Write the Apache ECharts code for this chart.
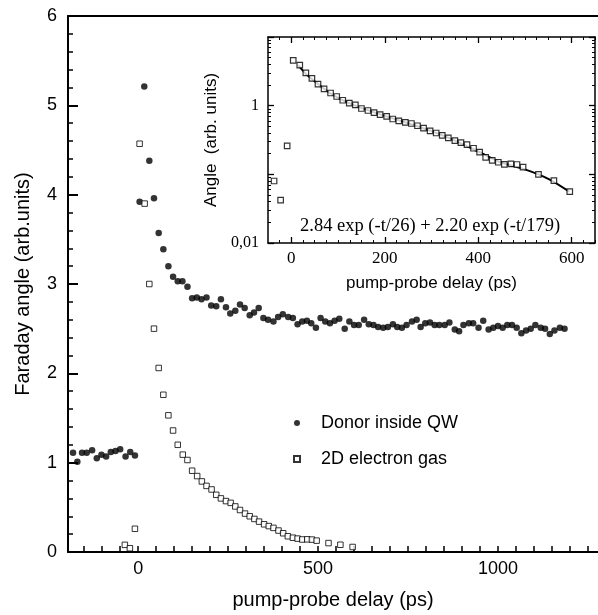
<!DOCTYPE html>
<html><head><meta charset="utf-8">
<script src="https://cdn.jsdelivr.net/npm/echarts@6/dist/echarts.min.js"></script>
<style>html,body{margin:0;padding:0;background:#fff}#c{width:598px;height:615px}</style>
</head><body><div id="c"></div>
<script>
// Donor inside QW (filled circles): delay (ps) and Faraday angle
const donorDelay = [-196,-181,-169,-156,-143,-128,-115,-102,-89,-76,-63,-50,-35,-22,-9,
  4,17,31,44,57,70,84,97,110,123,137,150,163,176,190,203,217,230,244,256,270,283,296,310,322,335,348,361,
  376,389,402,417,430,443,456,469,481,494,507,520,533,546,559,574,587,600,613,628,641,654,667,681,694,708,
  720,733,746,761,774,785,798,811,824,837,852,865,880,892,904,919,931,946,959,974,987,1000,1013,1026,1039,
  1052,1065,1078,1091,1104,1119,1131,1144,1157,1172,1185];
const donorAngle = [1.06,1.11,1.01,1.11,1.11,1.14,1.05,1.09,1.07,1.12,1.13,1.15,1.07,1.12,1.08,
  3.92,5.21,4.38,3.96,3.57,3.39,3.20,3.08,3.03,3.03,2.97,2.84,2.85,2.83,2.85,2.76,2.75,2.83,2.74,2.67,2.70,2.77,2.73,2.65,2.68,2.73,2.62,2.60,
  2.58,2.63,2.66,2.63,2.62,2.55,2.58,2.59,2.56,2.51,2.62,2.58,2.56,2.59,2.61,2.50,2.58,2.54,2.54,2.60,2.55,2.54,2.52,2.51,2.52,2.55,
  2.52,2.51,2.54,2.58,2.60,2.52,2.56,2.57,2.54,2.54,2.54,2.57,2.49,2.47,2.54,2.56,2.56,2.51,2.59,2.49,2.51,2.53,2.51,2.54,2.54,
  2.51,2.45,2.48,2.50,2.54,2.51,2.50,2.44,2.48,2.51,2.50];

// 2D electron gas (open squares)
const gasDelay = [-37,-23,-9,4,18,31,44,57,70,84,97,110,124,137,150,164,177,190,204,217,230,244,257,270,283,297,310,323,336,350,363,376,390,403,416,430,443,456,470,483,496,529,562,596];
const gasAngle = [0.08,0.042,0.26,4.57,3.9,3.0,2.5,2.06,1.76,1.53,1.36,1.20,1.09,1.03,0.91,0.85,0.79,0.74,0.70,0.64,0.60,0.57,0.55,0.51,0.47,0.43,0.40,0.37,0.34,0.31,0.29,0.27,0.24,0.21,0.176,0.16,0.15,0.14,0.142,0.139,0.127,0.10,0.081,0.056];

// Fit curve in the inset
const fitDelay = [15,30,45,60,80,100,125,150,200,250,300,350,400,450,500,550,595];
const fitAngle = [3.85,2.95,2.4,2.0,1.57,1.30,1.08,0.93,0.71,0.555,0.425,0.31,0.215,0.148,0.118,0.086,0.056];

// Tick labels
const mainXLabels = [0,500,1000];
const mainYLabels = [0,1,2,3,4,5,6];
const insetXLabels = [0,200,400,600];
const insetYLabels = {'-2':'0,01','0':'1'};

const SANS = 'Liberation Sans, Arial, sans-serif';
const SERIF = 'Liberation Serif, Times New Roman, serif';

function range(a,b,s,skip){const r=[];for(let v=a;v<=b+1e-9;v+=s){if(!skip||!skip(v))r.push(v);}return r;}
const mainXTicks = range(-150,1250,50);
const insetXMinor = range(-25,650,25,v=>v%200===0);
const logMinor = [];
[0.01,0.1,1].forEach(d=>{for(let k=2;k<=9;k++)logMinor.push(+(d*k).toPrecision(3));});

const zip = (a,b)=>a.map((v,i)=>[v,b[i]]);
const plain = v=>String(Math.round(v));

const chart = echarts.init(document.getElementById('c'), null, {renderer:'canvas'});
const lineBlack = (w)=>({show:true,onZero:false,lineStyle:{color:'#000',width:w}});
const noLine = {show:false,onZero:false};

const option = {
  animation:false,
  grid:[
    {left:68, top:16, right:0, bottom:60},
    {left:268, top:37, width:327, height:206}
  ],
  xAxis:[
    {gridIndex:0,type:'value',min:-195,max:1278,position:'bottom',
     axisLine:lineBlack(2),
     axisTick:{show:true,inside:true,length:6,customValues:mainXTicks,lineStyle:{color:'#000',width:1.5}},
     axisLabel:{customValues:mainXLabels,formatter:plain,fontSize:18,color:'#000',fontFamily:SANS,margin:8},
     splitLine:{show:false},
     name:'pump-probe delay (ps)',nameLocation:'middle',nameGap:38,
     nameTextStyle:{fontSize:20,color:'#000',fontFamily:SANS}},
    {gridIndex:0,type:'value',min:-195,max:1278,position:'top',
     axisLine:lineBlack(2),axisTick:{show:false},axisLabel:{show:false},splitLine:{show:false}},
    {gridIndex:1,type:'value',min:-50,max:650,position:'bottom',
     axisLine:lineBlack(1.5),
     axisTick:{show:true,inside:true,length:6,customValues:insetXLabels,lineStyle:{color:'#000',width:1.3}},
     axisLabel:{customValues:insetXLabels,formatter:plain,fontSize:17,color:'#000',fontFamily:SERIF,margin:7},
     splitLine:{show:false},
     name:'pump-probe delay (ps)',nameLocation:'middle',nameGap:32,
     nameTextStyle:{fontSize:17,color:'#000',fontFamily:SANS}},
    {gridIndex:1,type:'value',min:-50,max:650,position:'top',
     axisLine:lineBlack(1.5),
     axisTick:{show:true,inside:true,length:6,customValues:insetXLabels,lineStyle:{color:'#000',width:1.3}},
     axisLabel:{show:false},splitLine:{show:false}},
    {gridIndex:1,type:'value',min:-50,max:650,position:'bottom',
     axisLine:noLine,
     axisTick:{show:true,inside:true,length:3,customValues:insetXMinor,lineStyle:{color:'#000',width:1}},
     axisLabel:{show:false},splitLine:{show:false}},
    {gridIndex:1,type:'value',min:-50,max:650,position:'top',
     axisLine:noLine,
     axisTick:{show:true,inside:true,length:3,customValues:insetXMinor,lineStyle:{color:'#000',width:1}},
     axisLabel:{show:false},splitLine:{show:false}}
  ],
  yAxis:[
    {gridIndex:0,type:'value',min:0,max:6,interval:1,position:'left',
     axisLine:lineBlack(2),
     axisTick:{show:true,inside:true,length:10,lineStyle:{color:'#000',width:2}},
     minorTick:{show:true,splitNumber:5,length:5,lineStyle:{color:'#000',width:1.5}},
     axisLabel:{fontSize:18,color:'#000',fontFamily:SANS,margin:11},
     splitLine:{show:false},
     name:'Faraday angle (arb.units)',nameLocation:'middle',nameGap:35,
     nameTextStyle:{fontSize:20,color:'#000',fontFamily:SANS}},
    {gridIndex:1,type:'log',logBase:10,min:0.01,max:10,position:'left',
     axisLine:lineBlack(1.5),
     axisTick:{show:true,inside:true,length:6,lineStyle:{color:'#000',width:1.3}},
     axisLabel:{fontSize:16,color:'#000',fontFamily:SERIF,margin:9,
       formatter:v=>{const k=String(Math.round(Math.log10(v)));return insetYLabels[k]||'';}},
     splitLine:{show:false},
     name:'Angle  (arb. units)',nameLocation:'middle',nameGap:42,
     nameTextStyle:{fontSize:17,color:'#000',fontFamily:SANS}},
    {gridIndex:1,type:'log',logBase:10,min:0.01,max:10,position:'right',
     axisLine:lineBlack(1.5),
     axisTick:{show:true,inside:true,length:6,lineStyle:{color:'#000',width:1.3}},
     axisLabel:{show:false},splitLine:{show:false}},
    {gridIndex:1,type:'log',logBase:10,min:0.01,max:10,position:'left',
     axisLine:noLine,
     axisTick:{show:true,inside:true,length:3,customValues:logMinor,lineStyle:{color:'#000',width:1}},
     axisLabel:{show:false},splitLine:{show:false}},
    {gridIndex:1,type:'log',logBase:10,min:0.01,max:10,position:'right',
     axisLine:noLine,
     axisTick:{show:true,inside:true,length:3,customValues:logMinor,lineStyle:{color:'#000',width:1}},
     axisLabel:{show:false},splitLine:{show:false}}
  ],
  legend:{
    orient:'vertical',left:288,top:408,itemWidth:6,itemHeight:6,itemGap:16,
    textStyle:{fontSize:18,color:'#000',fontFamily:SANS,lineHeight:20,padding:[0,0,0,16]},
    data:[{name:'Donor inside QW',icon:'circle'},{name:'2D electron gas',icon:'rect'}],
    selectedMode:false
  },
  series:[
    {name:'Donor inside QW',type:'scatter',xAxisIndex:0,yAxisIndex:0,symbol:'circle',symbolSize:6.5,
     itemStyle:{color:'#000'},data:zip(donorDelay,donorAngle),z:3},
    {name:'2D electron gas',type:'scatter',xAxisIndex:0,yAxisIndex:0,symbol:'rect',symbolSize:5.5,
     itemStyle:{color:'#fff',borderColor:'#000',borderWidth:1},data:zip(gasDelay,gasAngle),z:3},
    {name:'fit',type:'line',xAxisIndex:2,yAxisIndex:1,smooth:0.3,showSymbol:false,symbol:'none',
     lineStyle:{color:'#000',width:2},data:zip(fitDelay,fitAngle),z:2},
    {name:'2D electron gas',type:'scatter',xAxisIndex:2,yAxisIndex:1,symbol:'rect',symbolSize:5.5,
     itemStyle:{color:'#fff',borderColor:'#000',borderWidth:1.2},data:zip(gasDelay,gasAngle),z:4}
  ],
  graphic:[
    {type:'text',left:300,top:217,
     style:{text:'2.84 exp (-t/26) + 2.20 exp (-t/179)',fontSize:18.5,fontFamily:SERIF,fill:'#000'}}
  ]
};
chart.setOption(option);
</script></body></html>
